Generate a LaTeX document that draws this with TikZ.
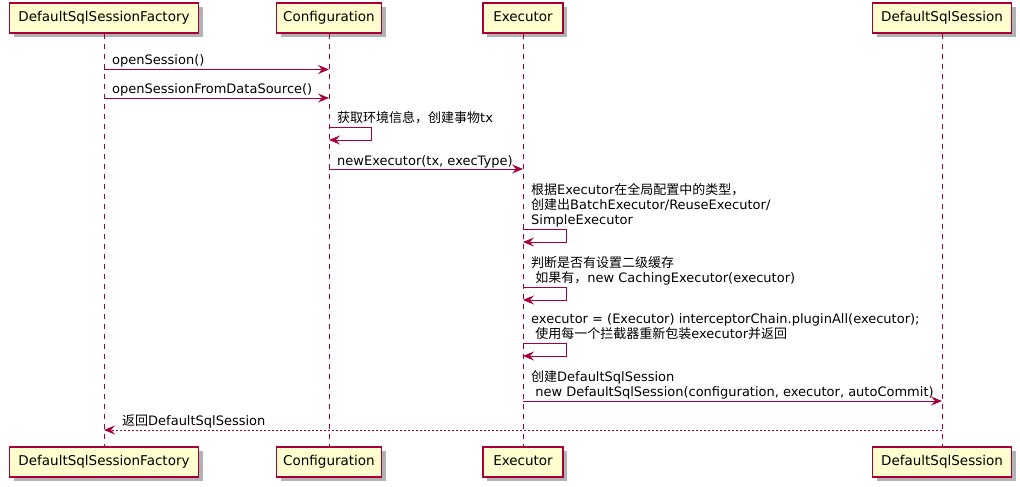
\documentclass[tikz,border=0pt]{standalone}
\usepackage{fontspec}
\setmainfont{DejaVu Sans}
\newfontfamily\cjk{Noto Sans CJK SC}
\usetikzlibrary{arrows.meta,shadows}
\definecolor{pborder}{HTML}{A80036}
\definecolor{pfill}{HTML}{FEFECE}
\newcommand\zh[1]{{\cjk #1}}
\begin{document}
\begin{tikzpicture}[x=1pt,y=-1pt,
  part/.style={draw=pborder, line width=1.3pt, fill=pfill, minimum height=30pt, inner sep=0pt,
    text height=10.5pt, text depth=3pt,
    font=\fontsize{13.5}{15}\selectfont,
    drop shadow={shadow xshift=4pt, shadow yshift=-4pt, fill=black, opacity=0.3}},
  lifeline/.style={draw=pborder, line width=1pt, dash pattern=on 5pt off 5pt},
  msg/.style={draw=pborder, line width=1pt, -{Stealth[length=11pt,width=9pt,inset=4pt]}},
  ret/.style={msg, dash pattern=on 2pt off 2pt},
  lbl/.style={anchor=base west, inner sep=0pt, font=\fontsize{13}{15}\selectfont}]
\useasboundingbox (0,0) rectangle (1020,487);
% participants top
\node[part, minimum width=189pt] (f) at (104,18) {DefaultSqlSessionFactory};
\node[part, minimum width=105pt] (c) at (329,18) {Configuration};
\node[part, minimum width=80pt] (e) at (523,18) {Executor};
\node[part, minimum width=139pt] (d) at (942,18) {DefaultSqlSession};
% participants bottom
\node[part, minimum width=189pt] (fb) at (104,462) {DefaultSqlSessionFactory};
\node[part, minimum width=105pt] (cb) at (329,462) {Configuration};
\node[part, minimum width=80pt] (eb) at (523,462) {Executor};
\node[part, minimum width=139pt] (db) at (942,462) {DefaultSqlSession};
% lifelines
\draw[lifeline] (f.south) -- (fb.north);
\draw[lifeline] (c.south) -- (cb.north);
\draw[lifeline] (e.south) -- (eb.north);
\draw[lifeline] (d.south) -- (db.north);
% 1
\node[lbl] (m1) at (112,64.5) {openSession()};
\draw[msg] (f |- 0,69.5) -- (c |- 0,69.5);
% 2
\node[lbl] (m2) at (112,93.5) {openSessionFromDataSource()};
\draw[msg] (f |- 0,98) -- (c |- 0,98);
% 3
\node[lbl] (m3) at (337,122.5) {\zh{获取环境信息，创建事物}tx};
\draw[msg] (c |- 0,127) -- ++(42,0) -- ++(0,13) -- (c |- 0,140);
% 4
\node[lbl] (m4) at (337,165) {newExecutor(tx, execType)};
\draw[msg] (c |- 0,169) -- (e |- 0,169);
% 5
\node[lbl] (m5a) at (531,194) {\zh{根据}Executor\zh{在全局配置中的类型，}};
\node[lbl] (m5b) at (531,209) {\zh{创建出}BatchExecutor/ReuseExecutor/};
\node[lbl] (m5c) at (531,224) {SimpleExecutor};
\draw[msg] (e |- 0,229) -- ++(43,0) -- ++(0,13) -- (e |- 0,242);
% 6
\node[lbl] (m6a) at (531,267) {\zh{判断是否有设置二级缓存}};
\node[lbl] (m6b) at (531,282) {~\zh{如果有，}new CachingExecutor(executor)};
\draw[msg] (e |- 0,287) -- ++(43,0) -- ++(0,13) -- (e |- 0,300);
% 7
\node[lbl] (m7a) at (531,323) {executor = (Executor) interceptorChain.pluginAll(executor);};
\node[lbl] (m7b) at (531,338) {~\zh{使用每一个拦截器重新包装}executor\zh{并返回}};
\draw[msg] (e |- 0,343) -- ++(43,0) -- ++(0,13) -- (e |- 0,356);
% 8
\node[lbl] (m8a) at (531,381) {\zh{创建}DefaultSqlSession};
\node[lbl] (m8b) at (531,396) {~new DefaultSqlSession(configuration, executor, autoCommit)};
\draw[msg] (e |- 0,401) -- (d |- 0,401);
% 9
\node[lbl] (m9) at (122,425) {\zh{返回}DefaultSqlSession};
\draw[ret] (d |- 0,430) -- (f |- 0,430);
\end{tikzpicture}
\end{document}
